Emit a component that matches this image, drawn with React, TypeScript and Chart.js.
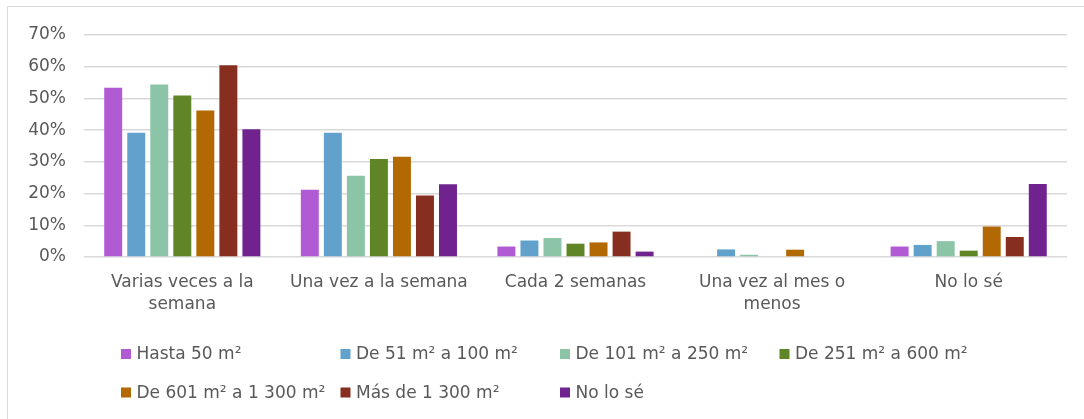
import React, { useEffect, useRef } from "react";
import { Chart, registerables } from "chart.js";

Chart.register(...registerables);

const categories: (string | string[])[] = [
  ["Varias veces a la", "semana"],
  "Una vez a la semana",
  "Cada 2 semanas",
  ["Una vez al mes o", "menos"],
  "No lo sé",
];

const seriesNames = [
  "Hasta 50 m²",
  "De 51 m² a 100 m²",
  "De 101 m² a 250 m²",
  "De 251 m² a 600 m²",
  "De 601 m² a 1 300 m²",
  "Más de 1 300 m²",
  "No lo sé",
];

const seriesColors = ["#B05AD4", "#63A1CD", "#8BC4A6", "#608526", "#B26903", "#862F21", "#70238F"];

const hasta50 = [0.534, 0.212, 0.033, 0, 0.033];
const de51a100 = [0.392, 0.392, 0.052, 0.024, 0.038];
const de101a250 = [0.544, 0.256, 0.06, 0.007, 0.05];
const de251a600 = [0.509, 0.309, 0.042, 0, 0.02];
const de601a1300 = [0.462, 0.316, 0.046, 0.023, 0.096];
const mas1300 = [0.605, 0.194, 0.08, 0, 0.063];
const noLoSe = [0.403, 0.229, 0.017, 0, 0.23];

const seriesValues = [hasta50, de51a100, de101a250, de251a600, de601a1300, mas1300, noLoSe];

const yTicks = [0, 0.1, 0.2, 0.3, 0.4, 0.5, 0.6, 0.7];

const FONT = "'DejaVu Sans', sans-serif";
const TEXT = "#595959";

const gridLegend = {
  id: "gridLegend",
  afterDraw(chart: any) {
    const ctx = chart.ctx;
    ctx.save();
    ctx.font = `17px ${FONT}`;
    ctx.textBaseline = "middle";
    ctx.textAlign = "left";
    chart.data.datasets.forEach((ds: any, i: number) => {
      const x = 121 + (i % 4) * 219.5;
      const y = 354 + Math.floor(i / 4) * 38.5;
      ctx.fillStyle = ds.backgroundColor;
      ctx.fillRect(x, y - 5, 10, 10);
      ctx.fillStyle = TEXT;
      ctx.fillText(ds.label, x + 15.5, y + 1);
    });
    ctx.restore();
  },
};

export default function App() {
  const ref = useRef<HTMLCanvasElement | null>(null);

  useEffect(() => {
    document.body.style.margin = "0";
    document.body.style.overflow = "hidden";
    const chart = new Chart(ref.current!, {
      type: "bar",
      data: {
        labels: categories,
        datasets: seriesNames.map((name, i) => ({
          label: name,
          data: seriesValues[i],
          backgroundColor: seriesColors[i],
          borderWidth: 0,
          categoryPercentage: 0.82,
          barPercentage: 0.78,
        })),
      },
      options: {
        animation: false,
        responsive: false,
        maintainAspectRatio: false,
        layout: { padding: { left: 0, right: 17, top: 35, bottom: 0 } },
        plugins: {
          legend: { display: false },
          tooltip: { enabled: false },
        },
        scales: {
          x: {
            grid: { display: false, drawTicks: false },
            border: { display: false },
            ticks: {
              color: TEXT,
              font: { family: FONT, size: 17, lineHeight: 1.28 },
              padding: 15,
              maxRotation: 0,
              autoSkip: false,
            },
            afterFit: (s: any) => {
              s.height = 162;
            },
          },
          y: {
            min: 0,
            max: 0.7,
            afterBuildTicks: (s: any) => {
              s.ticks = yTicks.map((v) => ({ value: v }));
            },
            grid: { color: "#D9D9D9", lineWidth: 1.5, drawTicks: false },
            border: { display: false },
            ticks: {
              color: TEXT,
              font: { family: FONT, size: 17 },
              padding: 18,
              callback: (v: any) => `${Math.round(Number(v) * 100)}%`,
            },
            afterFit: (s: any) => {
              s.width = 84;
            },
          },
        },
      },
      plugins: [gridLegend],
    });
    return () => chart.destroy();
  }, []);

  return (
    <div style={{ position: "fixed", left: 0, top: 0, width: 1084, height: 419, overflow: "hidden", background: "#fff" }}>
      <div
        style={{
          position: "absolute",
          left: 7,
          top: 6,
          width: 1100,
          height: 440,
          border: "1px solid #D9D9D9",
          boxSizing: "border-box",
        }}
      />
      <canvas ref={ref} width={1084} height={419} style={{ position: "absolute", left: 0, top: 0, display: "block" }} />
    </div>
  );
}
